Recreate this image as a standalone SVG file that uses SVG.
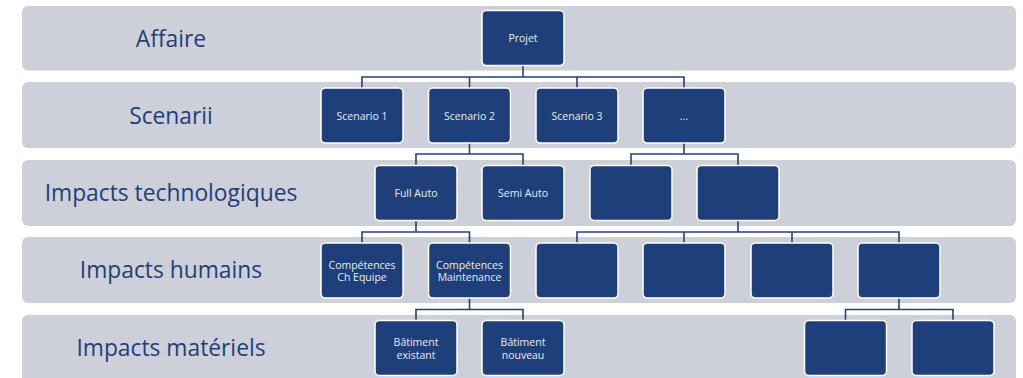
<svg xmlns="http://www.w3.org/2000/svg" width="1023" height="378" viewBox="0 0 1023 378">
  <style>
    .band { fill: #CDD0D9; }
    .lbl { font-family: "Open Sans", "Noto Sans", sans-serif; font-size: 22.8px; fill: #1F3F7A; text-anchor: middle; }
    .box { fill: #1F3F7A; stroke: #FFFFFF; stroke-width: 1.5; }
    .txt { font-family: "Open Sans", "Noto Sans", sans-serif; font-size: 10.5px; fill: #E8ECF4; text-anchor: middle; }
    .link { fill: none; stroke: #23427C; stroke-width: 1.6; }
  </style>
  <defs>
    <rect id="node" x="-41" y="0" width="82" height="55" rx="4.5" class="box"/>
  </defs>
  <rect width="1023" height="378" fill="#FFFFFF"/>

  <!-- level bands -->
  <g id="bands">
    <rect class="band" x="22" y="6" width="994" height="64.5" rx="6"/>
    <rect class="band" x="22" y="82" width="994" height="66" rx="6"/>
    <rect class="band" x="22" y="160" width="994" height="66" rx="6"/>
    <rect class="band" x="22" y="237" width="994" height="66" rx="6"/>
    <rect class="band" x="22" y="315" width="994" height="72" rx="6"/>
  </g>

  <!-- level names -->
  <g id="levels">
    <text class="lbl" x="171" y="47">Affaire</text>
    <text class="lbl" x="171" y="124">Scenarii</text>
    <text class="lbl" x="171" y="201">Impacts technologiques</text>
    <text class="lbl" x="171" y="278">Impacts humains</text>
    <text class="lbl" x="171" y="356">Impacts matériels</text>
  </g>

  <!-- connectors -->
  <g id="connectors">
    <path class="link" d="M523 65.5 V77 M362 88 V77 H684 V88 M469.5 77 V88 M577 77 V88"/>
    <path class="link" d="M469.5 143 V154 M416 165.5 V154 H523 V165.5"/>
    <path class="link" d="M684 143 V154 M631 165.5 V154 H738 V165.5"/>
    <path class="link" d="M416 220.5 V232 M362 243 V232 H469.5 V243"/>
    <path class="link" d="M738 220.5 V232 M577 243 V232 H899 V243 M684 232 V243 M792 232 V243"/>
    <path class="link" d="M469.5 298 V309.5 M416 320.5 V309.5 H523 V320.5"/>
    <path class="link" d="M899 298 V309.5 M845.5 320.5 V309.5 H953 V320.5"/>
  </g>

  <!-- Affaire -->
  <g id="projet" transform="translate(523,10.5)"><use href="#node"/><text class="txt" x="0" y="31.5">Projet</text></g>

  <!-- Scenarii -->
  <g id="scenario1" transform="translate(362,88)"><use href="#node"/><text class="txt" x="0" y="31.5">Scenario 1</text></g>
  <g id="scenario2" transform="translate(469.5,88)"><use href="#node"/><text class="txt" x="0" y="31.5">Scenario 2</text></g>
  <g id="scenario3" transform="translate(577,88)"><use href="#node"/><text class="txt" x="0" y="31.5">Scenario 3</text></g>
  <g id="scenario-more" transform="translate(684,88)"><use href="#node"/><text class="txt" x="0" y="31.5">...</text></g>

  <!-- Impacts technologiques -->
  <g id="full-auto" transform="translate(416,165.5)"><use href="#node"/><text class="txt" x="0" y="31.5">Full Auto</text></g>
  <g id="semi-auto" transform="translate(523,165.5)"><use href="#node"/><text class="txt" x="0" y="31.5">Semi Auto</text></g>
  <g id="tech-3" transform="translate(631,165.5)"><use href="#node"/></g>
  <g id="tech-4" transform="translate(738,165.5)"><use href="#node"/></g>

  <!-- Impacts humains -->
  <g id="comp-ch-equipe" transform="translate(362,243)"><use href="#node"/><text class="txt" x="0" y="25.5">Compétences</text><text class="txt" x="0" y="38">Ch Equipe</text></g>
  <g id="comp-maintenance" transform="translate(469.5,243)"><use href="#node"/><text class="txt" x="0" y="25.5">Compétences</text><text class="txt" x="0" y="38">Maintenance</text></g>
  <g id="hum-3" transform="translate(577,243)"><use href="#node"/></g>
  <g id="hum-4" transform="translate(684,243)"><use href="#node"/></g>
  <g id="hum-5" transform="translate(792,243)"><use href="#node"/></g>
  <g id="hum-6" transform="translate(899,243)"><use href="#node"/></g>

  <!-- Impacts matériels -->
  <g id="batiment-existant" transform="translate(416,320.5)"><use href="#node"/><text class="txt" x="0" y="25.5">Bâtiment</text><text class="txt" x="0" y="38">existant</text></g>
  <g id="batiment-nouveau" transform="translate(523,320.5)"><use href="#node"/><text class="txt" x="0" y="25.5">Bâtiment</text><text class="txt" x="0" y="38">nouveau</text></g>
  <g id="mat-3" transform="translate(845.5,320.5)"><use href="#node"/></g>
  <g id="mat-4" transform="translate(953,320.5)"><use href="#node"/></g>
</svg>
